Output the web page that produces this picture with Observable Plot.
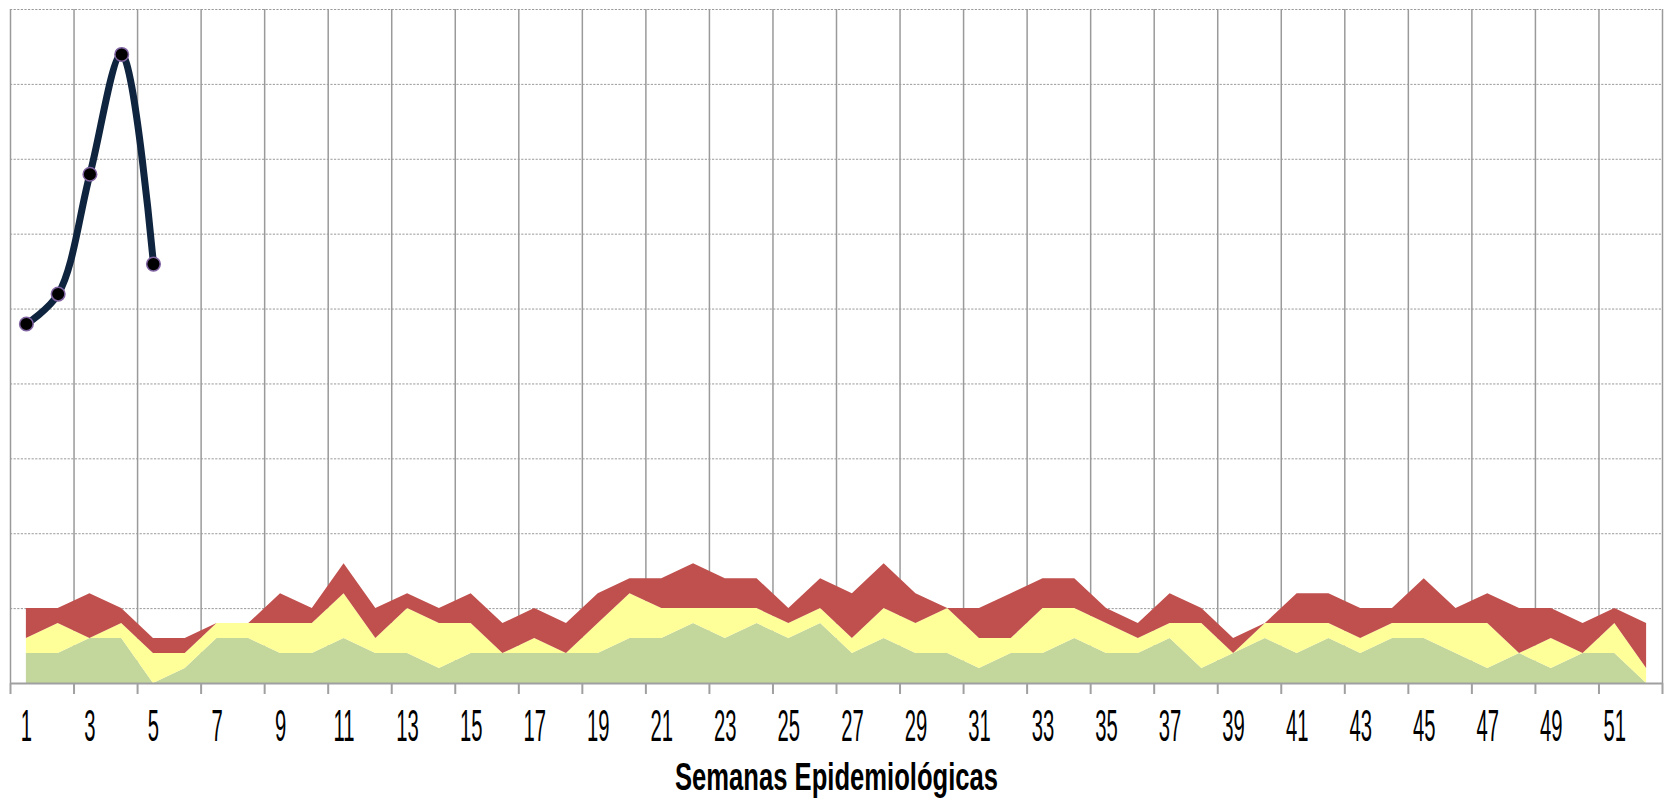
<!DOCTYPE html>
<html><head><meta charset="utf-8">
<script src="https://cdn.jsdelivr.net/npm/d3@7"></script>
<script src="https://cdn.jsdelivr.net/npm/@observablehq/plot@0.6"></script>
<style>body{margin:0;background:#fff;overflow:hidden} svg{display:block}</style>
</head><body><div id="chart"></div>
<script>
// Semanas epidemiológicas
const weeks = d3.range(1, 53);
// Canal endémico: límites acumulados por semana (casos)
const zonaExito     = [2,2,3,3,0,1,3,3,2,2,3,2,2,1,2,2,2,2,2,3,3,4,3,4,3,4,2,3,2,2,1,2,2,3,2,2,3,1,2,3,2,3,2,3,3,2,1,2,1,2,2,0];
const zonaSeguridad = [3,4,3,4,2,2,4,4,4,4,6,3,5,4,4,2,3,2,4,6,5,5,5,5,4,5,3,5,4,5,3,3,5,5,4,3,4,4,2,4,4,4,3,4,4,4,4,2,3,2,4,1];
const zonaAlerta    = [5,5,6,5,3,3,4,4,6,5,8,5,6,5,6,4,5,4,6,7,7,8,7,7,5,7,6,8,6,5,5,6,7,7,5,4,6,5,3,4,6,6,5,5,7,5,6,5,5,4,5,4];
// Casos observados del año en curso
const casosWeeks = [1,2,3,4,5];
const casos = [24,26,34,42,28];
// Etiquetas y límites del eje
const tickLabels = d3.range(1, 52, 2);
const gridWeeks = d3.range(0.5, 53, 2);
const yGrid = d3.range(5, 50, 5);

const table = weeks.map((w, i) => ({week: w, exito: zonaExito[i], seguridad: zonaSeguridad[i], alerta: zonaAlerta[i]}));
const casosData = casosWeeks.map((w, i) => ({week: w, casos: casos[i]}));

const chart = Plot.plot({
  width: 1667,
  height: 800,
  marginTop: 9,
  marginBottom: 117,
  marginLeft: 10,
  marginRight: 5,
  style: {fontFamily: "'Liberation Sans', Arial, sans-serif", background: "#fff"},
  x: {type: "linear", domain: [0.5, 52.5], label: null},
  y: {domain: [0, 45], axis: null, label: null},
  marks: [
    Plot.gridY({ticks: yGrid, stroke: "#9a9a9a", strokeOpacity: 1, strokeWidth: 1, strokeDasharray: "2.2,1.4"}),
    Plot.gridX({ticks: gridWeeks, stroke: "#9a9a9a", strokeOpacity: 1, strokeWidth: 1.5}),
    Plot.areaY(table, {x: "week", y1: 0, y2: "exito", fill: "#C3D69B"}),
    Plot.areaY(table, {x: "week", y1: "exito", y2: "seguridad", fill: "#FFFF99"}),
    Plot.areaY(table, {x: "week", y1: "seguridad", y2: "alerta", fill: "#C0504D"}),
    Plot.ruleY([0], {stroke: "#a0a0a0", strokeWidth: 2}),
    Plot.axisX({ticks: gridWeeks, tickSize: 11, tickFormat: () => "", stroke: "#a0a0a0", strokeWidth: 2}),
    Plot.axisX({ticks: tickLabels, tickSize: 0, tickPadding: 26, fontSize: 44, fill: "#000", tickFormat: d => String(d)}),
    Plot.line(casosData, {x: "week", y: "casos", curve: "catmull-rom", stroke: "#0F243E", strokeWidth: 7}),
    Plot.dot(casosData, {x: "week", y: "casos", r: 6.8, fill: "#000", stroke: "#8064A2", strokeWidth: 1.5}),
    Plot.text(["Semanas Epidemiológicas"], {frameAnchor: "bottom", lineAnchor: "middle", dy: 94, fontSize: 39, fontWeight: "bold", fill: "#000"})
  ]
});
document.getElementById("chart").appendChild(chart);

// condensed lettering (narrow display face in the original)
chart.querySelectorAll("text").forEach(t => {
  const s = t.textContent;
  if (/^\d+$/.test(s)) {
    const tr = t.getAttribute("transform") || "";
    t.setAttribute("transform", tr + " scale(0.46,1)");
  } else if (s === "Semanas Epidemiológicas") {
    t.setAttribute("textLength", 323);
    t.setAttribute("lengthAdjust", "spacingAndGlyphs");
  }
});
</script>
</body></html>
